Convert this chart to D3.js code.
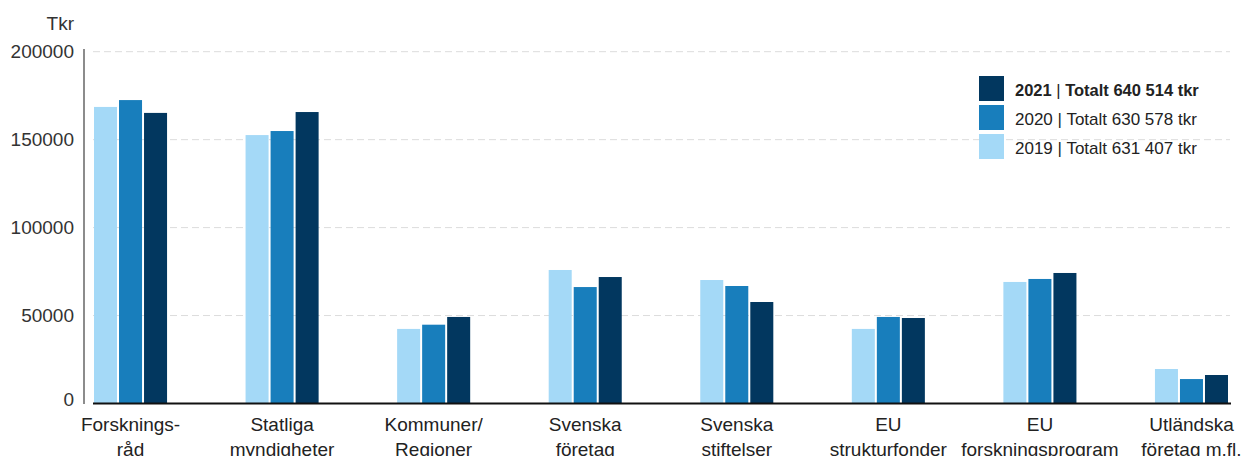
<!DOCTYPE html>
<html>
<head>
    <meta charset="utf-8">
    <script src="https://d3js.org/d3.v7.min.js"></script>
</head>
<style>
    body { margin: 0; background: #fff; }
    svg { font-family: "Liberation Sans", Arial, sans-serif; display: block; }
    .y text { font-size: 19px; fill: #333; }
    .grid line { stroke: #dcdcdc; stroke-dasharray: 7,4; stroke-width: 1; }
    .cat text { font-size: 19px; fill: #222; }
    .legend text { font-size: 17px; fill: #222; }
</style>
<body>
<svg id="chart" width="1246" height="456"></svg>
<script>
    // data (tkr)
    var categories = ["Forsknings-|råd", "Statliga|myndigheter", "Kommuner/|Regioner", "Svenska|företag",
                      "Svenska|stiftelser", "EU|strukturfonder", "EU|forskningsprogram", "Utländska|företag m.fl."];
    var years = ["2019", "2020", "2021"];
    var values2019 = [168600, 152600, 42400, 75900, 70200, 42400, 69100, 19600];
    var values2020 = [172500, 154900, 44800, 66200, 66800, 49200, 70800, 13900];
    var values2021 = [165200, 165700, 49200, 71900, 57700, 48600, 74200, 16200];
    var legendLabels = ["2021 | Totalt 640 514 tkr", "2020 | Totalt 630 578 tkr", "2019 | Totalt 631 407 tkr"];
    var legendYears = ["2021", "2020", "2019"];
    var yTicks = [0, 50000, 100000, 150000, 200000];

    var colors = { "2019": "#a4d9f7", "2020": "#187ebc", "2021": "#02375f" };
    var series = { "2019": values2019, "2020": values2020, "2021": values2021 };

    var svg = d3.select("svg#chart");
    var axisX = 84, plotLeft = 94, plotRight = 1228;

    var y = d3.scaleLinear().domain([0, 200000]).range([403.5, 51.7]);
    var x = d3.scaleBand().domain(categories).range([plotLeft, plotRight]).paddingInner(0.518).paddingOuter(0);
    var xs = d3.scaleBand().domain(years).range([0, x.bandwidth()]).paddingInner(0.08);

    // gridlines
    svg.append("g").attr("class", "grid")
        .selectAll("line")
        .data(yTicks.filter(function(d) { return d > 0; }))
        .enter().append("line")
        .attr("x1", 93).attr("x2", 1230)
        .attr("y1", function(d) { return y(d); })
        .attr("y2", function(d) { return y(d); });

    // bars
    var groups = svg.append("g").selectAll("g")
        .data(categories)
        .enter().append("g")
        .attr("transform", function(d) { return "translate(" + x(d) + ",0)"; });

    groups.selectAll("rect")
        .data(function(d, i) { return years.map(function(yr) { return { year: yr, value: series[yr][i] }; }); })
        .enter().append("rect")
        .attr("x", function(d) { return xs(d.year); })
        .attr("width", xs.bandwidth())
        .attr("y", function(d) { return y(d.value); })
        .attr("height", function(d) { return y(0) - y(d.value); })
        .attr("fill", function(d) { return colors[d.year]; });

    // y axis
    var leftAxis = d3.axisLeft(y).tickValues(yTicks).tickSize(0).tickPadding(10).tickFormat(d3.format("d"));
    var yg = svg.append("g").attr("class", "y")
        .attr("transform", "translate(" + axisX + ",0)")
        .call(leftAxis);
    yg.select(".domain").remove();
    yg.selectAll(".tick text").filter(function(d) { return d === 0; }).attr("dy", "0.1em");

    svg.append("line")
        .attr("x1", axisX).attr("x2", axisX)
        .attr("y1", 49).attr("y2", 404)
        .attr("stroke", "#666").attr("stroke-width", 1.5);

    // baseline
    svg.append("line")
        .attr("x1", 93).attr("x2", 1231)
        .attr("y1", y(0)).attr("y2", y(0))
        .attr("stroke", "#111").attr("stroke-width", 2);

    svg.append("text")
        .attr("x", 74).attr("y", 30)
        .attr("text-anchor", "end")
        .style("font-size", "19px").style("fill", "#333")
        .text("Tkr");

    // category labels (second line runs off the bottom, as in the original)
    var cat = svg.append("g").attr("class", "cat");
    categories.forEach(function(c) {
        var parts = c.split("|");
        var t = cat.append("text")
            .attr("text-anchor", "middle")
            .attr("x", x(c) + x.bandwidth() / 2)
            .attr("y", 431);
        parts.forEach(function(p, i) {
            t.append("tspan")
                .attr("x", x(c) + x.bandwidth() / 2)
                .attr("dy", i === 0 ? 0 : 24.5)
                .text(p);
        });
    });

    // legend
    var legend = svg.append("g").attr("class", "legend")
        .attr("transform", "translate(979,76)");
    legendYears.forEach(function(yr, i) {
        legend.append("rect")
            .attr("x", 0).attr("y", i * 29)
            .attr("width", 25).attr("height", 25)
            .attr("fill", colors[yr]);
        var parts = legendLabels[i].split(" | ");
        var t = legend.append("text")
            .attr("x", 36).attr("y", i * 29 + 19.5)
            .style("font-weight", i === 0 ? "bold" : "normal")
            .style("font-size", i === 0 ? "16.5px" : "17px");
        t.append("tspan").text(parts[0] + " ");
        t.append("tspan").style("font-weight", "normal").text("|");
        t.append("tspan").text(" " + parts[1]);
    });
</script>
</body>
</html>
